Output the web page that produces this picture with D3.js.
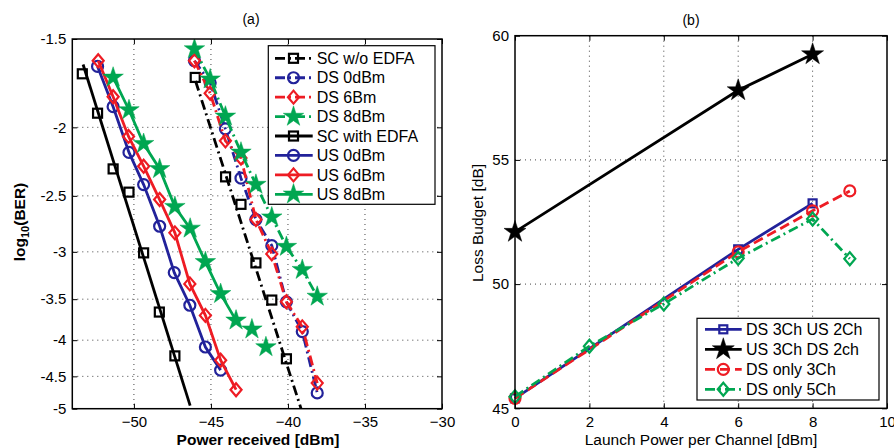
<!DOCTYPE html>
<html>
<head>
<meta charset="utf-8">
<script src="https://cdn.jsdelivr.net/npm/d3@7"></script>
<style>
body { margin: 0; background: #fff; }
svg { font-family: "Liberation Sans", Arial, sans-serif; }
</style>
</head>
<body>
<script>
// ---- data, panel (a): BER vs received power ----
const scWithX = [-53.35, -52.36, -51.35, -50.32, -49.37, -48.35, -47.34];
const scWithBer = [-1.68, -1.91, -2.29, -2.47, -3.01, -3.65, -4.21];
const scWithFitX = [-53.3, -46.35];
const scWithFitBer = [-1.63, -4.95];

const scWoX = [-46.02, -44.05, -43.05, -42.08, -41.05, -40.1];
const scWoBer = [-1.70, -2.35, -2.57, -3.11, -3.51, -4.25];
const scWoFitX = [-46.0, -39.15];
const scWoFitBer = [-1.72, -5.0];

const us0X = [-52.36, -51.35, -50.32, -49.37, -48.33, -47.38, -46.37, -45.36, -44.37];
const us0Ber = [-1.64, -1.87, -2.17, -2.41, -2.76, -3.21, -3.57, -4.09, -4.41];
const us6X = [-52.32, -51.35, -50.35, -49.37, -48.33, -47.34, -46.37, -45.36, -44.37, -43.37];
const us6Ber = [-1.61, -1.81, -2.06, -2.27, -2.53, -2.82, -3.33, -3.69, -4.27, -4.70];
const us8X = [-51.35, -50.32, -49.37, -48.33, -47.34, -46.35, -45.36, -44.37, -43.37, -42.34, -41.43];
const us8Ber = [-1.70, -1.89, -2.11, -2.29, -2.59, -2.78, -3.10, -3.44, -3.75, -3.86, -4.09];
const us8LinePoints = 9; // the last two stars have no line

const dsX = [-46.07, -45.05, -44.06, -43.05, -42.08, -41.05, -40.1, -39.07, -38.1];
const ds0Ber = [-1.61, -1.73, -2.01, -2.36, -2.70, -2.94, -3.53, -3.89, -4.75];
const ds6Ber = [-1.61, -1.79, -2.09, -2.21, -2.70, -3.02, -3.53, -3.83, -4.60];
const ds8Ber = [-1.55, -1.71, -1.93, -2.17, -2.41, -2.68, -2.95, -3.18, -3.47];

const berTicks = [-1.5, -2, -2.5, -3, -3.5, -4, -4.5, -5];
const powerTicks = [-50, -45, -40, -35, -30];

// ---- data, panel (b): loss budget vs launch power ----
const ds3us2X = [0, 6, 8];
const ds3us2 = [45.4, 51.4, 53.25];
const us3ds2X = [0, 6, 8];
const us3ds2 = [52.1, 57.8, 59.25];
const dsOnly3X = [0, 6, 8, 9];
const dsOnly3 = [45.4, 51.3, 52.95, 53.75];
const dsOnly5X = [0, 2, 4, 6, 8, 9];
const dsOnly5 = [45.47, 47.5, 49.2, 51.04, 52.62, 51.02];

const launchTicks = [0, 2, 4, 6, 8, 10];
const budgetTicks = [45, 50, 55, 60];

// colours
const cBlack = "#000000", cBlue = "#22229a", cRed = "#ee1c24", cGreen = "#00a651";
const dashDot = "10,4,2,4";
const dashed = "10,5";

const width = 894, height = 448;
const svg = d3.select("body").append("svg")
    .attr("width", width)
    .attr("height", height);

function zip(xs, ys) { return xs.map((x, i) => ({x: x, y: ys[i]})); }

// marker drawing
function drawMarker(g, type, cx, cy, color, size) {
    if (type === "square") {
        let s = size || 9;
        g.append("rect").attr("x", cx - s/2).attr("y", cy - s/2).attr("width", s).attr("height", s)
            .attr("fill", "none").attr("stroke", color).attr("stroke-width", 2.2);
    } else if (type === "circle") {
        g.append("circle").attr("cx", cx).attr("cy", cy).attr("r", size || 5.5)
            .attr("fill", "none").attr("stroke", color).attr("stroke-width", 2.2);
    } else if (type === "diamond") {
        let s = size || 6.5;
        g.append("path").attr("d", `M${cx},${cy-s}L${cx+s*0.85},${cy}L${cx},${cy+s}L${cx-s*0.85},${cy}Z`)
            .attr("fill", "none").attr("stroke", color).attr("stroke-width", 2.2);
    } else if (type === "star") {
        g.append("path").attr("d", d3.symbol().type(d3.symbolStar).size(size || 130)())
            .attr("transform", `translate(${cx},${cy})`)
            .attr("fill", color).attr("stroke", color).attr("stroke-width", 0.5);
    }
}

// dotted grid
function grid(x0, y0, x1, y1, xPos, yPos) {
    let g = svg.append("g");
    xPos.forEach(px => {
        if (px > x0 + 1 && px < x1 - 1)
            g.append("line").attr("x1", px).attr("x2", px).attr("y1", y0).attr("y2", y1)
                .attr("stroke", "#444").attr("stroke-width", 1).attr("stroke-dasharray", "1,4");
    });
    yPos.forEach(py => {
        if (py > y0 + 1 && py < y1 - 1)
            g.append("line").attr("x1", x0).attr("x2", x1).attr("y1", py).attr("y2", py)
                .attr("stroke", "#444").attr("stroke-width", 1).attr("stroke-dasharray", "1,4");
    });
}

// axes with inward ticks on all four sides, and the plot box
function box(x0, y0, x1, y1, xs, xTicks, xFmt, ys, yTicks, yFmt) {
    let g = svg.append("g");
    g.append("g").attr("transform", `translate(0,${y1})`)
        .call(d3.axisBottom(xs).tickValues(xTicks).tickSize(-5).tickPadding(8).tickFormat(xFmt));
    g.append("g").attr("transform", `translate(0,${y0})`)
        .call(d3.axisTop(xs).tickValues(xTicks).tickSize(-5).tickFormat(() => ""));
    g.append("g").attr("transform", `translate(${x0},0)`)
        .call(d3.axisLeft(ys).tickValues(yTicks).tickSize(-5).tickPadding(6).tickFormat(yFmt));
    g.append("g").attr("transform", `translate(${x1},0)`)
        .call(d3.axisRight(ys).tickValues(yTicks).tickSize(-5).tickFormat(() => ""));
    g.selectAll(".domain").remove();
    g.selectAll(".tick text").attr("font-size", 15).attr("fill", "#000")
        .attr("font-family", "Liberation Sans, Arial, sans-serif");
    g.selectAll(".tick line").attr("stroke", "#000");
    g.append("rect").attr("x", x0).attr("y", y0).attr("width", x1 - x0).attr("height", y1 - y0)
        .attr("fill", "none").attr("stroke", "#000").attr("stroke-width", 1.5);
}

// ===================== panel (a) =====================
const aL = 72.3, aR = 442, aT = 39, aB = 408.7;
const xA = d3.scaleLinear().domain([-54, -30]).range([aL, aR]);
// y axis: log scale of -log10(BER)
const yAlog = d3.scaleLog().domain([1.5, 5]).range([aT, aB]);
const yA = v => yAlog(-v);

grid(aL, aT, aR, aB, powerTicks.map(xA), berTicks.map(yA));

svg.append("clipPath").attr("id", "clipA").append("rect")
    .attr("x", aL).attr("y", aT).attr("width", aR - aL).attr("height", aB - aT);

const lineA = d3.line().x(d => xA(d.x)).y(d => yA(d.y));
const gA = svg.append("g").attr("clip-path", "url(#clipA)");

const seriesA = [
    {name: "SC w/o EDFA", color: cBlack, marker: "square", dash: dashDot, pts: zip(scWoX, scWoBer), line: zip(scWoFitX, scWoFitBer)},
    {name: "DS 0dBm", color: cBlue, marker: "circle", dash: dashDot, pts: zip(dsX, ds0Ber), line: zip(dsX, ds0Ber)},
    {name: "DS 6Bm", color: cRed, marker: "diamond", dash: dashDot, pts: zip(dsX, ds6Ber), line: zip(dsX, ds6Ber)},
    {name: "DS 8dBm", color: cGreen, marker: "star", dash: dashDot, pts: zip(dsX, ds8Ber), line: zip(dsX, ds8Ber)},
    {name: "SC with EDFA", color: cBlack, marker: "square", dash: null, pts: zip(scWithX, scWithBer), line: zip(scWithFitX, scWithFitBer)},
    {name: "US 0dBm", color: cBlue, marker: "circle", dash: null, pts: zip(us0X, us0Ber), line: zip(us0X, us0Ber)},
    {name: "US 6dBm", color: cRed, marker: "diamond", dash: null, pts: zip(us6X, us6Ber), line: zip(us6X, us6Ber)},
    {name: "US 8dBm", color: cGreen, marker: "star", dash: null, pts: zip(us8X, us8Ber), line: zip(us8X, us8Ber).slice(0, us8LinePoints)}
];

seriesA.forEach(s => {
    gA.append("path").datum(s.line).attr("d", lineA)
        .attr("fill", "none").attr("stroke", s.color).attr("stroke-width", 2.8)
        .attr("stroke-dasharray", s.dash);
    s.pts.forEach(p => drawMarker(gA, s.marker, xA(p.x), yA(p.y), s.color));
});

box(aL, aT, aR, aB, xA, powerTicks, d3.format(""),
    yAlog, berTicks.map(t => -t), d => "-" + d);

// legend (a)
const legA = svg.append("g");
legA.append("rect").attr("x", 268.3).attr("y", 45.7).attr("width", 166.7).attr("height", 158.6)
    .attr("fill", "#fff").attr("stroke", "#000").attr("stroke-width", 1.2);
seriesA.forEach((s, i) => {
    let y = 58.3 + i * 19.43;
    legA.append("line").attr("x1", 275).attr("x2", 312.7).attr("y1", y).attr("y2", y)
        .attr("stroke", s.color).attr("stroke-width", 2.8).attr("stroke-dasharray", s.dash);
    drawMarker(legA, s.marker, 293.5, y, s.color);
    legA.append("text").attr("x", 316.7).attr("y", y).attr("dy", "0.36em")
        .attr("font-size", 16).text(s.name);
});

svg.append("text").attr("x", 251).attr("y", 24).attr("text-anchor", "middle")
    .attr("font-size", 14).text("(a)");
svg.append("text").attr("x", 258).attr("y", 445).attr("text-anchor", "middle")
    .attr("font-size", 15.5).attr("font-weight", "bold").text("Power received [dBm]");
const yLabA = svg.append("text").attr("transform", `translate(25,222) rotate(-90)`)
    .attr("text-anchor", "middle").attr("font-size", 15.5).attr("font-weight", "bold");
yLabA.append("tspan").text("log");
yLabA.append("tspan").attr("font-size", 11).attr("dy", 4).text("10");
yLabA.append("tspan").attr("dy", -4).text("(BER)");

// ===================== panel (b) =====================
const bL = 515, bR = 887, bT = 35.7, bB = 408.3;
const xB = d3.scaleLinear().domain([0, 10]).range([bL, bR]);
const yB = d3.scaleLinear().domain([45, 60]).range([bB, bT]);

grid(bL, bT, bR, bB, launchTicks.map(xB), budgetTicks.map(yB));

const lineB = d3.line().x(d => xB(d.x)).y(d => yB(d.y));
const seriesB = [
    {name: "DS 3Ch US 2Ch", color: cBlue, marker: "square", dash: null, pts: zip(ds3us2X, ds3us2)},
    {name: "US 3Ch DS 2ch", color: cBlack, marker: "star", dash: null, pts: zip(us3ds2X, us3ds2)},
    {name: "DS only 3Ch", color: cRed, marker: "circle", dash: dashed, pts: zip(dsOnly3X, dsOnly3)},
    {name: "DS only 5Ch", color: cGreen, marker: "diamond", dash: dashDot, pts: zip(dsOnly5X, dsOnly5)}
];
const gB = svg.append("g");
seriesB.forEach(s => {
    gB.append("path").datum(s.pts).attr("d", lineB)
        .attr("fill", "none").attr("stroke", s.color).attr("stroke-width", 2.8)
        .attr("stroke-dasharray", s.dash);
    s.pts.forEach(p => drawMarker(gB, s.marker, xB(p.x), yB(p.y), s.color,
        s.marker === "star" ? 150 : (s.marker === "square" ? 8 : null)));
});

box(bL, bT, bR, bB, xB, launchTicks, d3.format(""), yB, budgetTicks, d3.format(""));

// legend (b)
const legB = svg.append("g");
legB.append("rect").attr("x", 697).attr("y", 318.3).attr("width", 182).attr("height", 81.7)
    .attr("fill", "#fff").attr("stroke", "#000").attr("stroke-width", 1.2);
seriesB.forEach((s, i) => {
    let y = 329.3 + i * 20;
    legB.append("line").attr("x1", 705).attr("x2", 741.7).attr("y1", y).attr("y2", y)
        .attr("stroke", s.color).attr("stroke-width", 2.8).attr("stroke-dasharray", s.dash);
    drawMarker(legB, s.marker, 723.3, y, s.color,
        s.marker === "star" ? 150 : (s.marker === "square" ? 8 : null));
    legB.append("text").attr("x", 746).attr("y", y).attr("dy", "0.36em")
        .attr("font-size", 16).text(s.name);
});

svg.append("text").attr("x", 691).attr("y", 25).attr("text-anchor", "middle")
    .attr("font-size", 14).text("(b)");
svg.append("text").attr("x", 701).attr("y", 445).attr("text-anchor", "middle")
    .attr("font-size", 15.5).text("Launch Power per Channel [dBm]");
svg.append("text").attr("transform", `translate(483,223) rotate(-90)`)
    .attr("text-anchor", "middle").attr("font-size", 15.5).text("Loss Budget [dB]");
</script>
</body>
</html>
